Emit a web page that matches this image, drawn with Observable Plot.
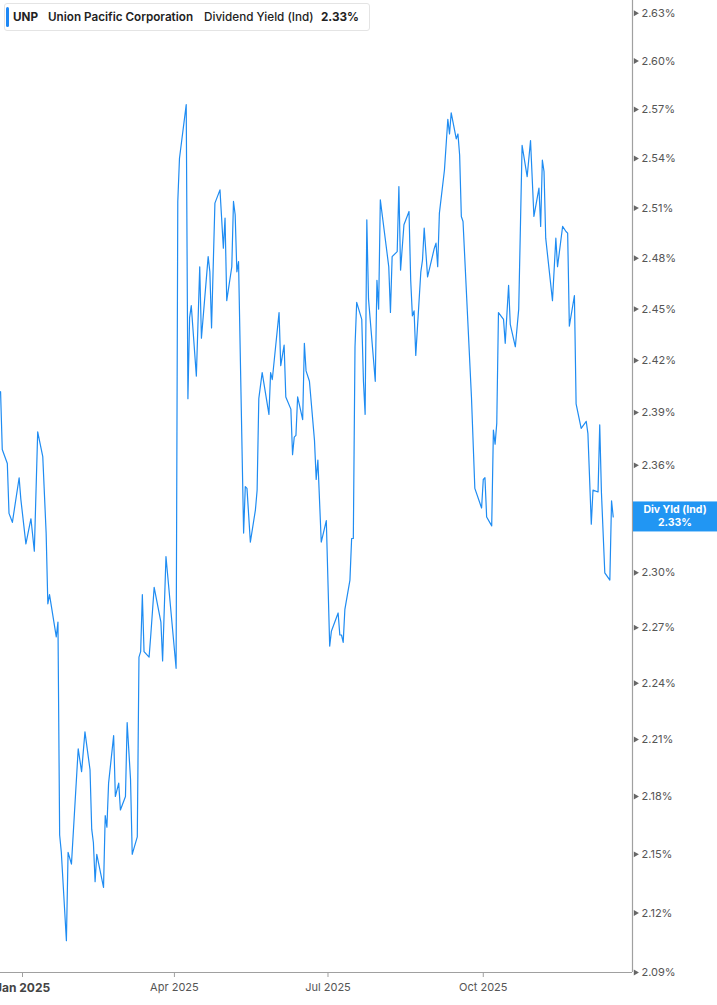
<!DOCTYPE html>
<html><head><meta charset="utf-8">
<script src="https://cdn.jsdelivr.net/npm/d3@7"></script>
<script src="https://cdn.jsdelivr.net/npm/@observablehq/plot@0.6"></script>
<style>
body{margin:0;background:#fff;font-family:Inter,"Noto Sans",sans-serif;}
#wrap{position:relative;width:717px;height:1005px;overflow:hidden;}
#hdr{position:absolute;left:4px;top:3px;height:28px;width:366px;box-sizing:border-box;border:1px solid #e4e4e4;border-radius:3px;background:#fff;font-size:11.7px;color:#222;white-space:nowrap;}
#hdr .bar{position:absolute;left:1px;top:3px;bottom:3px;width:3px;background:#1e88f5;border-radius:2px;}
#hdr span{position:absolute;top:6px;line-height:14px;}
</style></head>
<body>
<div id="wrap">
  <div id="chart"></div>
  <div id="hdr"><div class="bar"></div>
    <span style="left:8px;font-weight:700">UNP</span>
    <span style="left:43px;font-weight:600">Union Pacific Corporation</span>
    <span style="left:199px;font-weight:500">Dividend Yield (Ind)</span>
    <span style="left:316px;font-weight:700">2.33%</span>
  </div>
</div>
<script>
const dates = ["2024-12-19","2024-12-20","2024-12-23","2024-12-24","2024-12-26","2024-12-30","2024-12-31","2025-01-03","2025-01-06","2025-01-08",
"2025-01-10","2025-01-13","2025-01-15","2025-01-16","2025-01-17","2025-01-21","2025-01-22","2025-01-23","2025-01-24","2025-01-27",
"2025-01-28","2025-01-30","2025-02-03","2025-02-05","2025-02-07","2025-02-10","2025-02-11","2025-02-12","2025-02-13","2025-02-14",
"2025-02-18","2025-02-19","2025-02-20","2025-02-21","2025-02-24","2025-02-25","2025-02-27","2025-02-28","2025-03-03","2025-03-04",
"2025-03-06","2025-03-07","2025-03-10","2025-03-11","2025-03-12","2025-03-13","2025-03-14","2025-03-17","2025-03-18","2025-03-20",
"2025-03-24","2025-03-25","2025-03-27","2025-04-02","2025-04-03","2025-04-04","2025-04-08","2025-04-09","2025-04-10","2025-04-11",
"2025-04-14","2025-04-16","2025-04-17","2025-04-21","2025-04-22","2025-04-23","2025-04-25","2025-04-28","2025-04-30","2025-05-01",
"2025-05-02","2025-05-05","2025-05-06","2025-05-07","2025-05-08","2025-05-09","2025-05-12","2025-05-13","2025-05-14","2025-05-16",
"2025-05-19","2025-05-20","2025-05-21","2025-05-23","2025-05-27","2025-05-28","2025-05-29","2025-06-02","2025-06-03","2025-06-05",
"2025-06-06","2025-06-09","2025-06-10","2025-06-11","2025-06-12","2025-06-13","2025-06-16","2025-06-17","2025-06-18","2025-06-20",
"2025-06-23","2025-06-24","2025-06-25","2025-06-27","2025-06-30","2025-07-02","2025-07-03","2025-07-07","2025-07-08","2025-07-09",
"2025-07-10","2025-07-11","2025-07-14","2025-07-15","2025-07-16","2025-07-17","2025-07-18","2025-07-21","2025-07-22","2025-07-23",
"2025-07-24","2025-07-25","2025-07-28","2025-07-29","2025-07-30","2025-07-31","2025-08-01","2025-08-05","2025-08-06","2025-08-07",
"2025-08-08","2025-08-11","2025-08-12","2025-08-13","2025-08-15","2025-08-18","2025-08-19","2025-08-20","2025-08-21","2025-08-22",
"2025-08-25","2025-08-26","2025-08-27","2025-08-29","2025-09-02","2025-09-03","2025-09-04","2025-09-05","2025-09-08","2025-09-10",
"2025-09-11","2025-09-12","2025-09-15","2025-09-16","2025-09-17","2025-09-18","2025-09-19","2025-09-24","2025-09-26","2025-09-30",
"2025-10-01","2025-10-02","2025-10-03","2025-10-06","2025-10-07","2025-10-08","2025-10-09","2025-10-10","2025-10-13","2025-10-14",
"2025-10-16","2025-10-17","2025-10-20","2025-10-22","2025-10-24","2025-10-27","2025-10-29","2025-10-31","2025-11-03","2025-11-04",
"2025-11-05","2025-11-06","2025-11-07","2025-11-11","2025-11-13","2025-11-14","2025-11-17","2025-11-19","2025-11-20","2025-11-21",
"2025-11-24","2025-11-25","2025-11-28","2025-12-01","2025-12-02","2025-12-04","2025-12-05","2025-12-08","2025-12-09","2025-12-10",
"2025-12-12","2025-12-15","2025-12-16","2025-12-17"];
const yields = [2.402,2.369,2.361,2.333,2.328,2.353,2.341,2.316,2.330,2.312,
2.379,2.365,2.322,2.283,2.288,2.265,2.273,2.160,2.151,2.106,
2.151,2.145,2.205,2.193,2.214,2.194,2.163,2.156,2.136,2.150,
2.133,2.170,2.164,2.187,2.212,2.180,2.187,2.173,2.180,2.219,
2.189,2.150,2.159,2.254,2.257,2.288,2.257,2.254,2.266,2.292,
2.273,2.252,2.309,2.248,2.514,2.540,2.573,2.398,2.445,2.452,
2.411,2.475,2.433,2.481,2.472,2.439,2.513,2.521,2.486,2.504,
2.455,2.475,2.514,2.506,2.472,2.478,2.322,2.348,2.347,2.317,
2.335,2.346,2.398,2.413,2.389,2.413,2.409,2.448,2.417,2.429,
2.399,2.392,2.366,2.376,2.377,2.399,2.386,2.430,2.414,2.408,
2.374,2.352,2.363,2.317,2.329,2.260,2.268,2.278,2.266,2.266,
2.262,2.280,2.296,2.319,2.319,2.428,2.454,2.444,2.408,2.389,
2.503,2.456,2.420,2.408,2.467,2.450,2.515,2.483,2.475,2.448,
2.481,2.484,2.523,2.473,2.500,2.508,2.467,2.446,2.449,2.423,
2.472,2.479,2.498,2.469,2.486,2.489,2.475,2.507,2.533,2.564,
2.555,2.568,2.552,2.555,2.542,2.505,2.502,2.399,2.347,2.336,
2.352,2.353,2.331,2.326,2.380,2.372,2.384,2.448,2.444,2.430,
2.464,2.441,2.428,2.450,2.548,2.529,2.551,2.505,2.522,2.499,
2.539,2.532,2.492,2.455,2.492,2.475,2.499,2.496,2.495,2.440,
2.458,2.395,2.381,2.385,2.378,2.327,2.346,2.345,2.383,2.345,
2.300,2.296,2.340,2.331];
const yTicks = [2.09,2.12,2.15,2.18,2.21,2.24,2.27,2.30,2.33,2.36,2.39,2.42,2.45,2.48,2.51,2.54,2.57,2.60,2.63];
const xTickDates = ["2025-01-01","2025-04-01","2025-07-01","2025-10-01"];
const xDomainDates = ["2024-12-18T23:00:00Z","2025-12-28T10:00:00Z"];
const yDomain = [2.09, 2.638];
const seriesLabel = ["Div Yld (Ind)"];

const data = dates.map((d,i)=>({date:new Date(d+"T00:00:00Z"), value:yields[i]}));
const xTicks = xTickDates.map(d=>new Date(d+"T00:00:00Z"));
const xDomain = xDomainDates.map(d=>new Date(d));
const fmtX = d3.utcFormat("%b %Y");
const BLUE = "#1f8cf2";
const last = yields[yields.length-1];

const chart = Plot.plot({
  width:717, height:1005,
  marginTop:0, marginBottom:33, marginLeft:0, marginRight:85,
  style:{fontFamily:"Inter, 'Noto Sans', sans-serif", background:"transparent"},
  x:{type:"utc", domain:xDomain, axis:null},
  y:{type:"log", domain:yDomain, axis:null},
  marks:[
    Plot.ruleY([yDomain[0]], {stroke:"#a0a0a0", strokeWidth:1.2}),
    Plot.ruleX([xDomain[1]], {stroke:"#a0a0a0", strokeWidth:1.2}),
    Plot.axisX(xTicks, {anchor:"bottom", tickSize:5, stroke:"#a0a0a0", tickFormat:()=>"", label:null}),
    Plot.text(xTicks.slice(0,1), {x:d=>d, frameAnchor:"bottom", dy:19, text:d=>fmtX(d), fontSize:12, fontWeight:700, fill:"#444"}),
    Plot.text(xTicks.slice(1), {x:d=>d, frameAnchor:"bottom", dy:18, text:d=>fmtX(d), fontSize:11, fill:"#555"}),
    Plot.dot(yTicks, {y:d=>d, frameAnchor:"right", symbol:"triangle", rotate:90, r:2.2, fill:"#666", stroke:null, dx:3}),
    // the tick label at the current value is covered by the value tag, as in the reference
    Plot.text(yTicks.filter(t=>Math.abs(t-last)>0.008), {y:d=>d, frameAnchor:"right", text:d=>d.toFixed(2)+"%", textAnchor:"start", dx:9, fontSize:11, fill:"#555"}),
    Plot.line(data, {x:"date", y:"value", stroke:BLUE, strokeWidth:1.2, curve:"linear"})
  ]
});
document.getElementById("chart").appendChild(chart);

// current value tag on the right axis
const yPos = chart.scale("y").apply(last);
const svg = d3.select(chart);
const g = svg.append("g");
g.append("rect").attr("x",633).attr("y",yPos-15).attr("width",84).attr("height",30).attr("fill","#2196f3");
g.append("text").attr("x",675).attr("y",yPos-6).attr("text-anchor","middle").attr("dominant-baseline","middle")
  .attr("fill","#fff").attr("font-size",10.5).attr("font-weight",700).text(seriesLabel[0]);
g.append("text").attr("x",675).attr("y",yPos+6.5).attr("text-anchor","middle").attr("dominant-baseline","middle")
  .attr("fill","#fff").attr("font-size",10.5).attr("font-weight",700).text(last.toFixed(2)+"%");
</script>
</body></html>
